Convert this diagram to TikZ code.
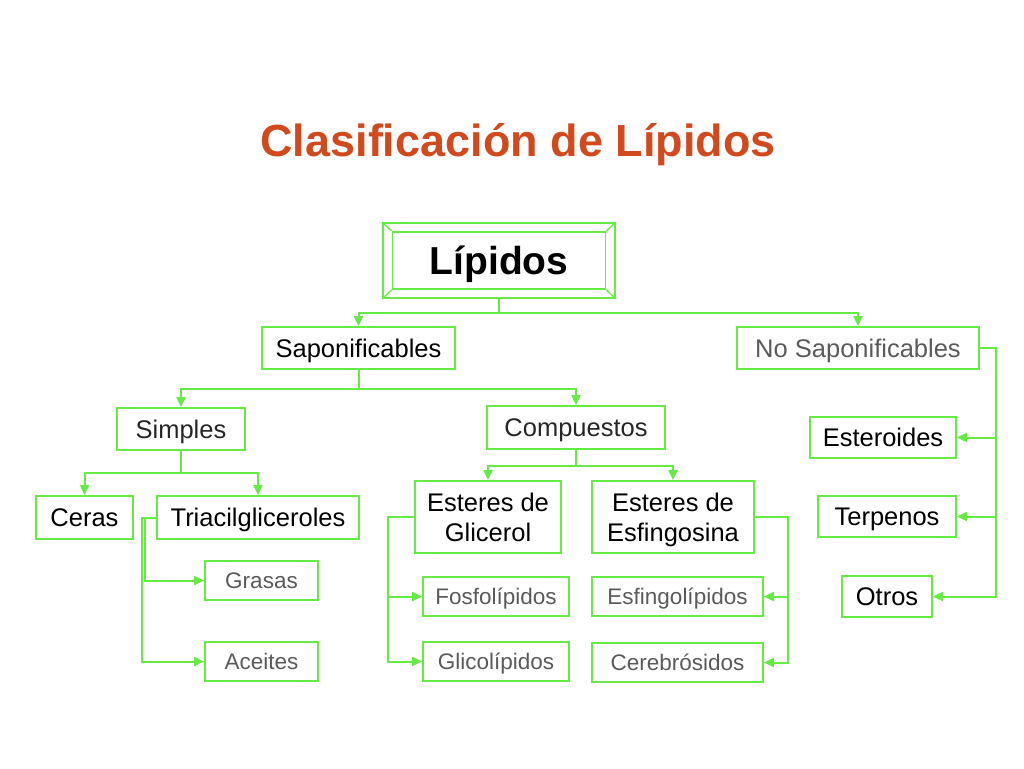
\documentclass[tikz,border=0pt]{standalone}
\usepackage{fontspec}
\setmainfont{Liberation Sans}
\usetikzlibrary{arrows.meta}
\definecolor{lineg}{RGB}{102,234,68}
\definecolor{titler}{RGB}{208,74,30}
\definecolor{softg}{RGB}{90,90,90}

\begin{document}
\begin{tikzpicture}[x=1pt, y=-1pt,
  frame/.style={draw=lineg, line width=1.8pt, inner sep=0pt, align=center,
    text depth=0pt, font=\fontsize{25.5}{30}\selectfont},
  box/.style={frame, text height=18pt},
  subbox/.style={box, text=softg, text height=16pt, font=\fontsize{22.5}{26}\selectfont},
  link/.style={draw=lineg, line width=2pt},
  arr/.style={link, -{Triangle[length=10pt,width=9pt]}}]
  % page
  \useasboundingbox (0,0) rectangle (1024,768);
  % Title
  \node[anchor=base, text=titler, font=\fontsize{45}{50}\selectfont\bfseries] (title) at (518,156) {Clasificación de Lípidos};
  % Lipidos box with bevel
  \node[draw=lineg, line width=1.8pt, minimum width=232pt, minimum height=75pt] (lipo) at (499,260.5) {};
  \node[box, text height=27pt, minimum width=213pt, minimum height=57pt, font=\fontsize{39}{42}\selectfont\bfseries] (lip) at (499,260.5) {Lípidos};
  \draw[link, line width=1.3pt] (lipo.north west) -- (lip.north west);
  \draw[link, line width=1.3pt] (lipo.north east) -- (lip.north east);
  \draw[link, line width=1.3pt] (lipo.south west) -- (lip.south west);
  \draw[link, line width=1.3pt] (lipo.south east) -- (lip.south east);
  % First level
  \node[box, minimum width=193pt, minimum height=42pt] (sap) at (358.5,348) {Saponificables};
  \node[box, text=softg, minimum width=242pt, minimum height=42pt] (nosap) at (858,348) {No Saponificables};
  % Saponificables branch
  \node[box, text=black!85, minimum width=128pt, minimum height=42pt] (simp) at (181,429) {Simples};
  \node[box, text=black!85, minimum width=178pt, minimum height=43pt] (comp) at (576,427.5) {Compuestos};
  \node[box, minimum width=97pt, minimum height=43pt] (ceras) at (84.5,517.5) {Ceras};
  \node[box, minimum width=202pt, minimum height=43pt] (tri) at (258,517.5) {Triacilgliceroles};
  \node[subbox, minimum width=113pt, minimum height=39pt] (gras) at (261.5,580.5) {Grasas};
  \node[subbox, minimum width=113pt, minimum height=39pt] (acei) at (261.5,661.5) {Aceites};
  \node[frame, minimum width=146pt, minimum height=72pt] (egl) at (488,517) {Esteres de\\Glicerol};
  \node[frame, minimum width=162pt, minimum height=72pt] (eesf) at (673,517) {Esteres de\\Esfingosina};
  \node[subbox, minimum width=146pt, minimum height=39pt] (fosf) at (496,596.5) {Fosfolípidos};
  \node[subbox, minimum width=146pt, minimum height=39pt] (glic) at (496,661.5) {Glicolípidos};
  \node[subbox, minimum width=171pt, minimum height=39pt] (esfl) at (677.5,596.5) {Esfingolípidos};
  \node[subbox, minimum width=171pt, minimum height=39pt] (cere) at (677.5,662.5) {Cerebrósidos};
  % No saponificables branch
  \node[box, minimum width=146pt, minimum height=41pt] (este) at (883,437.5) {Esteroides};
  \node[box, minimum width=138pt, minimum height=41pt] (terp) at (887,516.5) {Terpenos};
  \node[box, minimum width=90pt, minimum height=41pt] (otro) at (887,596.5) {Otros};
  % Connectors
  \draw[link] (lipo.south) -- ++(0,14) coordinate (lipj);
  \draw[arr] (lipj) -| (sap.north);
  \draw[arr] (lipj) -| (nosap.north);
  \draw[link] (sap.south) -- ++(0,19) coordinate (sapj);
  \draw[arr] (sapj) -| (simp.north);
  \draw[arr] (sapj) -| (comp.north);
  \draw[link] (simp.south) -- ++(0,22) coordinate (simj);
  \draw[arr] (simj) -| (ceras.north);
  \draw[arr] (simj) -| (tri.north);
  \draw[link] (comp.south) -- ++(0,16) coordinate (comj);
  \draw[arr] (comj) -| (egl.north);
  \draw[arr] (comj) -| (eesf.north);
  \draw[arr] (tri.west) -- ++(-11,0) |- (gras.west);
  \draw[arr] (tri.west) -- ++(-14,0) |- (acei.west);
  \draw[arr] (egl.west) -- ++(-26,0) |- (fosf.west);
  \draw[arr] (egl.west) -- ++(-26,0) |- (glic.west);
  \draw[arr] (eesf.east) -- ++(33,0) |- (esfl.east);
  \draw[arr] (eesf.east) -- ++(33,0) |- (cere.east);
  \draw[arr] (nosap.east) -- ++(16,0) |- (este.east);
  \draw[arr] (nosap.east) -- ++(16,0) |- (terp.east);
  \draw[arr] (nosap.east) -- ++(16,0) |- (otro.east);
\end{tikzpicture}
\end{document}
